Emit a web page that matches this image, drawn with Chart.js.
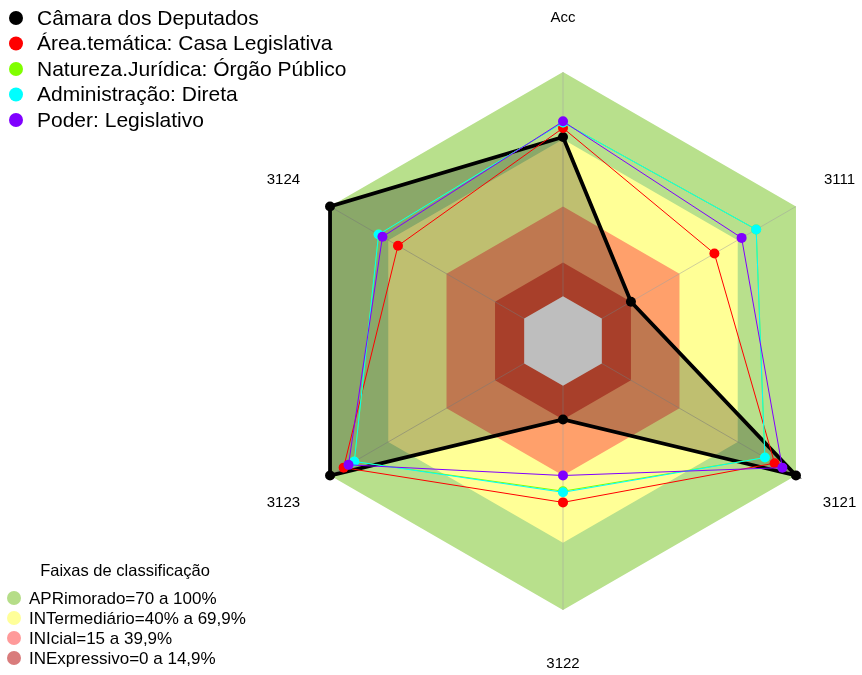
<!DOCTYPE html>
<html>
<head>
<meta charset="utf-8">
<script src="https://cdn.jsdelivr.net/npm/chart.js@4"></script>
<style>
  html, body { margin: 0; padding: 0; background: #fff; }
</style>
</head>
<body>
<canvas id="radarChart" width="862" height="675"></canvas>
<script>
// eixos do radar (sentido horario a partir do topo)
const eixos = ['Acc', '3111', '3121', '3122', '3123', '3124'];

const nomesSeries = [
    'Câmara dos Deputados',
    'Área.temática: Casa Legislativa',
    'Natureza.Jurídica: Órgão Público',
    'Administração: Direta',
    'Poder: Legislativo'
];
const camara   = [71, 15, 100, 15, 100, 100];
const area     = [75, 58, 89, 52, 93, 65];
const natureza = [77.5, 79.5, 84, 47, 87.5, 75];
const admin    = [77.5, 79.5, 84, 47.5, 87.5, 75];
const poder    = [78, 72, 93, 40, 90.5, 73];
const coresSeries = ['#000000', '#ff0000', '#80ff00', '#00ffff', '#8000ff'];

// faixas de classificacao (limite superior de cada faixa)
const limitesFaixas = [100, 70, 40, 15, 0];
const coresFaixas = ['#b8e08c', '#ffff96', '#ffa06b', '#e05538', '#bebebe'];
const nomesFaixas = [
    'APRimorado=70 a 100%',
    'INTermediário=40% a 69,9%',
    'INIcial=15 a 39,9%',
    'INExpressivo=0 a 14,9%'
];
const coresLegendaFaixas = ['#b5dd88', '#ffff99', '#ff9a9a', '#d97c7c'];

const valoresSeries = [camara, area, natureza, admin, poder];
const ordemSeries = [5, 3, 2, 1, 0];
const ordemFaixas = [9, 8, 7, 6, 4];

const datasets = [];
valoresSeries.forEach((vals, i) => {
    const principal = i === 0;
    datasets.push({
        label: nomesSeries[i],
        data: vals,
        order: ordemSeries[i],
        borderColor: coresSeries[i],
        backgroundColor: principal ? 'rgba(0, 0, 0, 0.25)' : coresSeries[i],
        fill: principal ? 'start' : false,
        borderWidth: principal ? 3.8 : 1,
        pointRadius: 5,
        pointBackgroundColor: coresSeries[i],
        pointBorderColor: coresSeries[i],
        pointBorderWidth: 0
    });
});
limitesFaixas.forEach((lim, i) => {
    datasets.push({
        label: 'faixa ' + lim,
        data: eixos.map(() => lim),
        order: ordemFaixas[i],
        borderWidth: 0,
        borderColor: 'rgba(0,0,0,0)',
        backgroundColor: coresFaixas[i],
        fill: 'start',
        pointRadius: 0
    });
});

// raios cinza, desenhados por cima das faixas e por baixo das series
const raiosPlugin = {
    id: 'raios',
    afterDatasetDraw(chart, args) {
        if (args.index !== 8) return;
        const s = chart.scales.r;
        const ctx = chart.ctx;
        ctx.save();
        ctx.strokeStyle = 'rgba(160, 160, 160, 0.5)';
        ctx.lineWidth = 1;
        for (let i = 0; i < eixos.length; i++) {
            const p = s.getPointPositionForValue(i, 100);
            ctx.beginPath();
            ctx.moveTo(s.xCenter, s.yCenter);
            ctx.lineTo(p.x, p.y);
            ctx.stroke();
        }
        ctx.restore();
    }
};

const textosPlugin = {
    id: 'textos',
    afterDraw(chart) {
        const s = chart.scales.r;
        const ctx = chart.ctx;
        ctx.save();
        ctx.fillStyle = '#000';
        ctx.textAlign = 'center';
        ctx.textBaseline = 'middle';
        ctx.font = '15px "Liberation Sans", Arial, sans-serif';
        eixos.forEach((lab, i) => {
            const p = s.getPointPosition(i, s.drawingArea * 1.2);
            ctx.fillText(lab, p.x - (p.x > s.xCenter + 5 ? 3 : 0), p.y);
        });

        // legenda das series
        ctx.textAlign = 'left';
        ctx.font = '21px "Liberation Sans", Arial, sans-serif';
        nomesSeries.forEach((nome, i) => {
            const y = 18 + i * 25.5;
            ctx.beginPath();
            ctx.arc(16, y, 7, 0, Math.PI * 2);
            ctx.fillStyle = coresSeries[i];
            ctx.fill();
            ctx.fillStyle = '#000';
            ctx.fillText(nome, 37, y + 1);
        });

        // legenda das faixas
        ctx.font = '16.5px "Liberation Sans", Arial, sans-serif';
        ctx.textAlign = 'center';
        ctx.fillText('Faixas de classificação', 125, 571);
        ctx.textAlign = 'left';
        ctx.font = '17px "Liberation Sans", Arial, sans-serif';
        nomesFaixas.forEach((nome, i) => {
            const y = 598 + i * 20;
            ctx.beginPath();
            ctx.arc(14, y, 7, 0, Math.PI * 2);
            ctx.fillStyle = coresLegendaFaixas[i];
            ctx.fill();
            ctx.fillStyle = '#000';
            ctx.fillText(nome, 29, y + 1);
        });
        ctx.restore();
    }
};

const ctx = document.getElementById('radarChart').getContext('2d');
const radarChart = new Chart(ctx, {
    type: 'radar',
    data: { labels: eixos, datasets: datasets },
    options: {
        responsive: false,
        animation: false,
        devicePixelRatio: 1,
        layout: { padding: { left: 294, right: 30, top: 72, bottom: 65 } },
        elements: { line: { tension: 0 } },
        plugins: {
            legend: { display: false },
            tooltip: { enabled: false }
        },
        scales: {
            r: {
                min: -20,
                max: 100,
                ticks: { display: false },
                grid: { display: false },
                angleLines: { display: false },
                pointLabels: { display: false }
            }
        }
    },
    plugins: [raiosPlugin, textosPlugin]
});
</script>
</body>
</html>
